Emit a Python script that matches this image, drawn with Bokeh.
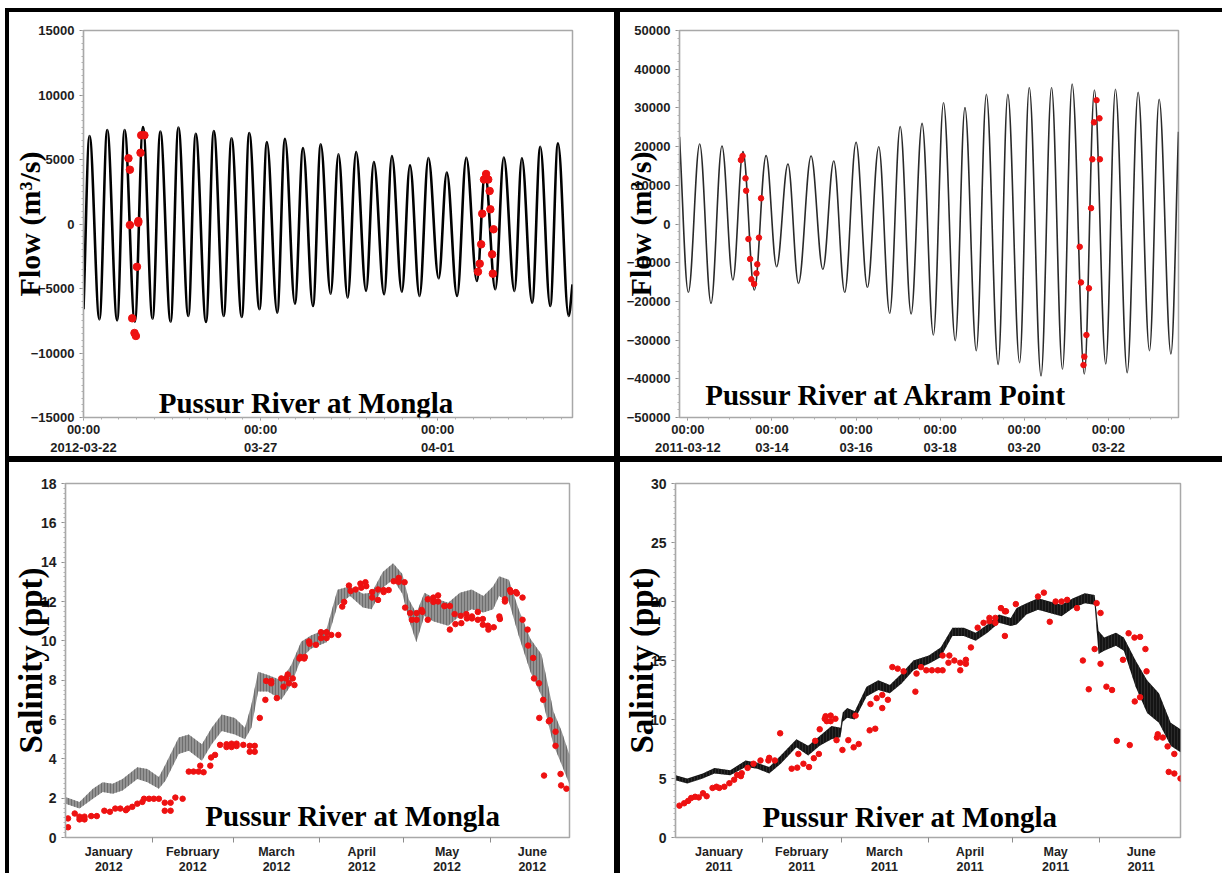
from bokeh.plotting import figure
from bokeh.models import Range1d, FixedTicker, Label, Spacer
from bokeh.layouts import column, row
from bokeh.core.properties import value
from bokeh.embed import file_html
from bokeh.resources import INLINE

# ---------------- Panel 1: Flow, Pussur River at Mongla (days after 2012-03-22 00:00)
mongla_flow_day = [0, 0.17, 0.45, 0.67, 0.95, 1.16, 1.45, 1.68, 1.95, 2.17, 2.46, 2.68, 2.96, 3.17,
                   3.46, 3.68, 3.96, 4.18, 4.47, 4.68, 4.97, 5.18, 5.47, 5.69, 5.97, 6.20, 6.48, 6.70,
                   6.98, 7.20, 7.46, 7.70, 7.98, 8.20, 8.49, 8.71, 8.99, 9.22, 9.49, 9.74, 10.03, 10.26,
                   10.55, 10.81, 11.11, 11.34, 11.63, 11.87, 12.17, 12.38, 12.67, 12.90, 13.18, 13.40,
                   13.70, 13.81]
mongla_flow_val = [-6610, 6820, -7390, 7290, -7470, 7290, -7570, 7520, -7340, 7160, -7570, 7470, -7130, 7000,
                   -7600, 7210, -7130, 6640, -7210, 7050, -6610, 6360, -6870, 6610, -6170, 5890, -6360, 6170,
                   -5400, 5400, -5710, 5580, -5190, 4810, -5450, 5270, -5250, 4550, -5580, 5120, -4210, 3980,
                   -5580, 5140, -4420, 3980, -5060, 5160, -5190, 5100, -6100, 5980, -6360, 6250,
                   -7130, -4680]
mongla_obs_day = [1.27, 1.31, 1.31, 1.375, 1.44, 1.48, 1.51, 1.545, 1.55, 1.61, 1.63, 1.72,
                  11.14, 11.19, 11.23, 11.26, 11.31, 11.37, 11.43, 11.47, 11.49, 11.58, 11.54, 11.56]
mongla_obs_val = [5090, 4210, -80, -7310, -8450, -8680, -3320, 100, 230, 5520, 6880, 6880,
                  -3700, -3075, -1575, 800, 3450, 3875, 3450, 2560, 1140, -410, -2350, -3850]
mongla_flow_ticks = {0: "00:00\n2012-03-22", 5: "00:00\n03-27", 10: "00:00\n04-01"}

# ---------------- Panel 2: Flow, Pussur River at Akram Point (days after 2011-03-12 00:00)
akram_flow_day = [-0.20, 0.01, 0.28, 0.55, 0.81, 1.07, 1.31, 1.58, 1.86, 2.11, 2.38, 2.63, 2.93, 3.21,
                  3.47, 3.73, 4.00, 4.27, 4.54, 4.80, 5.05, 5.31, 5.57, 5.84, 6.08, 6.36, 6.59, 6.86,
                  7.10, 7.38, 7.61, 7.89, 8.12, 8.40, 8.65, 8.91, 9.14, 9.43, 9.67, 9.94, 10.17, 10.45,
                  10.71, 10.98, 11.21, 11.49, 11.67]
akram_flow_val = [22560, -17650, 20670, -20500, 20150, -14470, 18690, -17050, 17660, -11030, 15500, -15330,
                  17570, -11710, 16280, -17650, 21110, -16360, 19980, -23080, 25150, -23260, 26010, -28680,
                  31350, -30150, 30060, -32730, 33500, -36260, 33500, -35830, 35230, -39280, 35230, -37550,
                  36180, -38760, 34630, -36180, 34800, -38420, 34030, -32740, 32220, -33590, 23850]
akram_obs_day = [1.26, 1.30, 1.37, 1.385, 1.44, 1.48, 1.51, 1.575, 1.63, 1.65, 1.69, 1.74,
                 9.32, 9.35, 9.41, 9.43, 9.48, 9.54, 9.59, 9.62, 9.66, 9.72, 9.79, 9.80]
akram_obs_val = [16540, 17570, 11800, 8600, -3880, -9040, -14290, -15500, -12740, -10420, -3530, 6640,
                 -5900, -15100, -36450, -34280, -28680, -16620, 4100, 16720, 26270, 32000, 27300, 16720]
akram_flow_ticks = {0: "00:00\n2011-03-12", 2: "00:00\n03-14", 4: "00:00\n03-16",
                    6: "00:00\n03-18", 8: "00:00\n03-20", 10: "00:00\n03-22"}

# ---------------- Panel 3: Salinity at Mongla 2012 (day of year, 0 = Jan 1)
sal12_band_day = [0, 5, 9.8, 13.3, 16.9, 20.4, 25.7, 29.3, 33.4, 35.8, 40.5, 44.1, 48.8, 52.3, 55.9,
                  60.6, 64.2, 66.5, 68.9, 72.4, 77.2, 80.7, 84.3, 87.8, 93.4, 97.3, 101.8, 106.4, 109.5,
                  113.5, 117.2, 120.5, 122.8, 125.5, 128.4, 131.5, 136.9, 141.1, 145.3, 149.5, 153.0,
                  155.1, 158.6, 162.1, 166.3, 170.3, 174.6, 177.5, 180.3]
sal12_band_hi = [2.06, 1.81, 2.48, 2.81, 2.73, 2.98, 3.57, 3.48, 3.07, 3.73, 5.08, 5.24, 4.74, 5.58, 6.25,
                 6.08, 5.58, 6.75, 8.43, 8.26, 8.0, 8.76, 9.95, 10.27, 10.6, 12.6, 12.78, 12.4, 12.44,
                 13.5, 13.95, 13.4, 12.11, 11.4, 12.44, 12.2, 11.94, 12.44, 12.61, 12.28, 12.78,
                 13.28, 13.1, 11.61, 10.1, 9.3, 6.4, 5.4, 4.2]
sal12_band_lo = [1.72, 1.47, 1.97, 2.31, 2.23, 2.39, 2.98, 2.81, 2.48, 2.90, 4.24, 4.41, 3.90, 4.74, 5.41,
                 5.24, 4.99, 5.58, 7.42, 7.42, 7.0, 7.75, 9.1, 9.6, 9.93, 11.8, 12.28, 11.7, 11.61,
                 12.7, 13.12, 12.4, 11.11, 9.93, 11.27, 11.0, 10.77, 11.27, 11.61, 11.44, 11.61,
                 12.28, 12.0, 10.27, 8.43, 7.2, 4.7, 3.7, 2.7]
sal12_obs_day = [0.9, 0.9, 3.3, 5.0, 5.0, 6.8, 6.8, 9.2, 11.2, 13.9,
                 15.9, 17.8, 19.6, 21.6, 22.2, 23.9, 25.7, 27.5, 28.1, 29.9,
                 31.6, 33.4, 35.5, 37.6, 35.5, 37.6, 39.3, 41.9, 44.1, 45.8,
                 47.6, 48.2, 49.4, 51.8, 52.1, 53.5, 55.3, 57.6, 59.4, 61.2,
                 63.6, 57.6, 59.4, 61.2, 65.9, 67.7, 65.9, 67.7, 69.5, 71.5,
                 71.8, 73.6, 73.6, 75.6, 77.2, 78.9, 78.0, 79.5, 79.9, 81.3,
                 81.9, 83.7, 84.0, 85.4, 85.6, 87.1, 87.3, 89.6, 91.4, 91.4,
                 93.4, 93.4, 95.1, 97.6, 99.0, 99.7, 101.4, 102.0, 103.8, 105.5,
                 105.8, 107.3, 107.6, 109.7, 109.7, 111.8, 111.8, 113.8, 113.8, 115.6,
                 117.4, 119.2, 119.2, 121.3, 121.5, 123.3, 123.9, 125.6, 125.6, 127.4,
                 127.7, 129.6, 129.6, 131.6, 131.6, 133.3, 133.3, 135.5, 135.7, 137.5,
                 137.5, 139.2, 139.5, 141.4, 141.6, 143.4, 143.6, 145.4, 145.4, 147.5,
                 147.5, 149.3, 149.3, 151.1, 151.3, 153.2, 155.2, 155.4, 157.2, 157.2,
                 159.0, 159.3, 161.1, 161.5, 163.5, 163.5, 165.3, 165.5, 167.3, 167.6,
                 169.4, 170.9, 169.5, 172.9, 173.3, 175.3, 175.3, 171.2, 177.1, 177.3,
                 179.2]
sal12_obs_val = [0.97, 0.52, 1.22, 1.06, 0.92, 1.06, 0.92, 1.09, 1.09, 1.36,
                 1.31, 1.47, 1.47, 1.39, 1.47, 1.56, 1.72, 1.81, 1.97, 1.97,
                 1.97, 1.97, 1.77, 1.77, 1.36, 1.36, 2.03, 1.97, 3.35, 3.35,
                 3.35, 3.65, 3.32, 3.65, 4.07, 4.2, 4.71, 4.74, 4.77, 4.77,
                 4.71, 4.6, 4.6, 4.65, 4.66, 4.66, 4.36, 4.36, 6.08, 7.0,
                 7.96, 7.96, 7.84, 7.09, 8.09, 8.09, 7.67, 8.29, 7.84, 8.09,
                 7.75, 9.1, 9.18, 9.1, 9.18, 9.97, 9.85, 9.8, 10.44, 10.14,
                 10.44, 10.14, 10.3, 10.3, 11.74, 11.98, 12.81, 12.53, 12.61, 12.91,
                 12.70, 12.98, 12.78, 12.48, 12.2, 12.61, 12.08, 12.58, 12.48, 12.58,
                 13.03, 13.2, 13.0, 12.98, 11.69, 11.41, 11.07, 11.41, 11.07, 11.57,
                 11.47, 12.11, 11.07, 12.2, 11.98, 12.31, 12.0, 11.77, 11.77, 11.77,
                 10.57, 11.36, 10.85, 11.27, 10.9, 11.36, 11.14, 11.24, 11.14, 11.47,
                 11.07, 11.11, 10.82, 10.77, 10.57, 10.69, 11.24, 11.11, 12.11, 12.0,
                 12.58, 12.48, 12.48, 12.41, 12.2, 11.07, 10.57, 9.76, 9.13, 8.09,
                 7.84, 7.0, 6.08, 5.91, 5.96, 5.38, 4.66, 3.15, 3.23, 2.65,
                 2.48]
month_starts_2012 = [0, 31, 60, 91, 121, 152, 182]
month_names = ["January", "February", "March", "April", "May", "June"]

# ---------------- Panel 4: Salinity at Mongla 2011 (day of year, 0 = Jan 1)
sal11_band_day = [0, 4.2, 9.7, 13.9, 19.5, 25.0, 29.2, 33.4, 37.5, 43.1, 47.3, 51.4, 55.6, 58.8, 59.6,
                  61.2, 63.9, 68.1, 72.3, 76.4, 80.6, 84.8, 90.3, 94.5, 98.7, 102.8, 107.0, 111.2, 115.3,
                  119.5, 121.6, 125.1, 129.2, 133.4, 137.6, 141.7, 145.9, 149.4, 150.8, 152.8, 157.0,
                  159.8, 164.0, 168.1, 172.3, 176.5, 180.0]
sal11_band_hi = [5.28, 5.0, 5.42, 5.89, 5.69, 6.53, 6.33, 5.97, 6.94, 8.33, 7.78, 8.61, 9.44, 9.3, 10.6,
                 10.97, 10.69, 12.78, 13.33, 12.92, 13.89, 15.0, 15.42, 16.11, 17.78, 17.78, 17.36, 18.06,
                 18.89, 18.61, 19.44, 19.86, 20.28, 20.0, 19.72, 20.28, 20.69, 20.56, 17.5, 16.94, 17.36,
                 16.94, 15.0, 13.33, 12.22, 9.72, 9.17]
sal11_band_lo = [4.86, 4.58, 5.0, 5.42, 5.28, 5.97, 5.83, 5.42, 6.25, 7.64, 6.94, 7.78, 8.33, 8.5, 9.8,
                 10.14, 10.0, 11.94, 12.5, 12.22, 13.06, 14.17, 14.72, 15.28, 17.08, 17.08, 16.67, 17.36,
                 18.19, 17.92, 18.06, 18.89, 19.31, 19.03, 18.75, 19.44, 19.86, 19.72, 15.56, 15.83, 16.25,
                 15.83, 12.78, 10.56, 9.72, 7.78, 7.22]
sal11_obs_day = [1.4, 3.1, 4.5, 5.6, 7.0, 8.3, 9.8, 11.1, 13.2, 14.6,
                 15.6, 17.4, 19.2, 20.9, 22.0, 23.3, 23.6, 25.7, 27.8, 30.3,
                 33.1, 33.4, 35.4, 37.3, 41.4, 43.4, 43.8, 45.6, 47.6, 49.3,
                 49.8, 51.1, 51.4, 53.2, 53.5, 53.9, 55.3, 55.3, 57.0, 57.4,
                 59.5, 61.6, 63.5, 64.2, 65.3, 69.2, 71.2, 69.5, 71.7, 73.7,
                 73.7, 75.7, 77.3, 79.2, 81.3, 85.5, 85.9, 87.5, 89.4, 91.4,
                 93.5, 95.2, 95.2, 97.3, 97.6, 99.4, 101.5, 101.5, 103.5, 103.5,
                 105.3, 107.7, 109.8, 111.9, 111.9, 114.0, 114.0, 116.0, 117.4, 117.4,
                 117.8, 121.3, 129.2, 131.3, 133.4, 135.5, 137.6, 139.6, 143.1, 145.2,
                 147.3, 149.4, 150.1, 151.5, 151.5, 153.6, 155.6, 157.3, 159.5, 161.5,
                 161.9, 163.6, 165.6, 163.7, 165.6, 167.5, 167.9, 171.6, 171.9, 173.7,
                 175.8, 175.4, 177.8, 177.8, 180.0]
sal11_obs_val = [2.7, 2.9, 3.1, 3.35, 3.45, 3.4, 3.75, 3.5, 4.2, 4.3,
                 4.2, 4.3, 4.6, 4.9, 5.3, 5.2, 5.45, 5.9, 6.25, 6.53,
                 6.53, 6.75, 6.53, 8.83, 5.83, 5.92, 7.08, 6.25, 5.97, 6.72,
                 8.19, 7.08, 9.17, 10.06, 10.28, 9.86, 10.33, 9.86, 10.06, 8.25,
                 7.42, 8.25, 7.64, 10.33, 7.92, 9.08, 9.22, 11.31, 11.81, 10.97,
                 12.08, 11.67, 14.44, 14.31, 14.08, 12.36, 13.89, 14.44, 14.17, 14.17,
                 14.17, 14.17, 15.42, 14.81, 15.42, 15.0, 14.81, 14.17, 15.06, 14.72,
                 16.11, 17.78, 18.19, 18.61, 18.33, 18.61, 18.19, 19.44, 17.08, 19.17,
                 19.17, 19.78, 20.42, 20.75, 18.28, 20.0, 20.0, 20.14, 19.44, 15.0,
                 12.56, 15.97, 19.86, 19.03, 14.72, 12.78, 12.5, 8.19, 15.06, 17.31,
                 7.83, 16.94, 17.0, 11.53, 11.89, 15.97, 14.08, 8.47, 8.75, 8.47,
                 5.56, 7.72, 5.42, 7.08, 5.0]
month_starts_2011 = [0, 31, 59, 90, 120, 151, 181]

RED = "#ee1111"
SERIF = "Liberation Serif"
SANS = "Liberation Sans"


def base_fig(w, h, xr, yr, mb, border):
    p = figure(width=w, height=h, x_range=Range1d(*xr), y_range=Range1d(*yr),
               output_backend="svg", toolbar_location=None,
               min_border_left=mb[0], min_border_right=mb[1],
               min_border_top=mb[2], min_border_bottom=mb[3])
    p.grid.visible = False
    p.outline_line_color = "#a8a8a8"
    p.outline_line_width = 1.5
    p.background_fill_color = "white"
    p.border_fill_color = "white"
    p.styles = {"border-style": "solid", "border-color": "black",
                "border-width": border, "box-sizing": "content-box"}
    for ax in (p.xaxis[0], p.yaxis[0]):
        ax.axis_line_color = "#a8a8a8"
        ax.axis_line_width = 1.2
        ax.major_tick_line_color = "#8c8c8c"
        ax.minor_tick_line_color = "#b0b0b0"
        ax.major_tick_in = 0
        ax.minor_tick_in = 0
        ax.major_tick_out = 4
        ax.minor_tick_out = 2
        ax.major_label_text_font = SANS
        ax.major_label_text_font_style = "bold"
        ax.major_label_text_font_size = "13px"
        ax.major_label_text_color = "#1e1e1e"
        ax.axis_label_text_font = SERIF
        ax.axis_label_text_font_style = "bold"
        ax.axis_label_text_color = "black"
    return p


def tidal_curve(p, days, vals, **kw):
    # each half tide cycle drawn as a smooth S-curve between consecutive read extremes
    k = 0.36
    n = len(days) - 1
    x0, x1 = days[:-1], days[1:]
    y0, y1 = vals[:-1], vals[1:]
    cx0 = [a + k * (b - a) for a, b in zip(x0, x1)]
    cx1 = [b - k * (b - a) for a, b in zip(x0, x1)]
    cy0 = list(y0)
    cy1 = list(y1)
    # first and last points are window edges, not extremes: leave them sloped
    cy0[0] = y0[0] + k * (y1[0] - y0[0])
    cy1[n - 1] = y1[n - 1] - k * (y1[n - 1] - y0[n - 1])
    p.bezier(x0=x0, y0=y0, x1=x1, y1=y1, cx0=cx0, cy0=cy0, cx1=cx1, cy1=cy1, **kw)


def title(p, x, y, text):
    p.add_layout(Label(x=x, y=y, text=text, text_font=SERIF, text_font_size="29px",
                       text_font_style="bold", text_align="center", text_baseline="alphabetic",
                       text_color="black"))


def flow_xaxis(p, ticks, nminor):
    p.xaxis.ticker = FixedTicker(ticks=list(ticks), minor_ticks=[i * 0.5 for i in range(nminor)])
    p.xaxis.major_label_overrides = ticks
    p.xaxis.major_label_text_line_height = 1.25
    p.xaxis.major_label_standoff = 1
    p.xaxis.major_tick_out = 3


def month_axis(p, starts, year):
    mids = [(starts[i] + starts[i + 1]) / 2 for i in range(6)]
    p.xaxis.ticker = FixedTicker(ticks=mids, minor_ticks=starts[1:6])
    p.xaxis.major_label_overrides = {m: f"{n}\n{year}" for m, n in zip(mids, month_names)}
    p.xaxis.major_tick_out = 0
    p.xaxis.minor_tick_out = 5
    p.xaxis.minor_tick_line_color = "#8c8c8c"
    p.xaxis.major_label_standoff = 2
    p.xaxis.major_label_text_line_height = 1.1
    p.xaxis.major_label_text_font_size = "12.5px"


def salinity_ylabel(p, standoff):
    p.yaxis.axis_label = "Salinity (ppt)"
    p.yaxis.axis_label_text_font_size = "33px"
    p.yaxis.axis_label_text_line_height = 0.8
    p.yaxis.axis_label_standoff = standoff


# Note: the canvas is sized to the border box but starts inside the CSS border,
# so the right/bottom min borders include the border widths.

# ---- Panel 1 (top left)
p1 = base_fig(605, 444, (0, 13.81), (-15000, 15000), (74, 49, 16, 46), "4px 3px 3px 4px")
tidal_curve(p1, mongla_flow_day, mongla_flow_val, line_color="black", line_width=2.6)
p1.scatter(mongla_obs_day, mongla_obs_val, size=7.5, fill_color=RED, line_color=RED)
flow_xaxis(p1, mongla_flow_ticks, 28)
p1.yaxis.ticker = FixedTicker(ticks=list(range(-15000, 15001, 5000)),
                              minor_ticks=list(range(-15000, 15001, 500)))
p1.yaxis.axis_label = "Flow (m³/s)"
p1.yaxis.axis_label_text_font_size = "30px"
p1.yaxis.axis_label_standoff = -18
title(p1, 6.3, -13850, "Pussur River at Mongla")

# ---- Panel 2 (top right)
p2 = base_fig(602, 444, (-0.2, 11.67), (-50000, 50000), (59, 47, 18, 46), "4px 0px 3px 3px")
tidal_curve(p2, akram_flow_day, akram_flow_val, line_color="#2a2a2a", line_width=1.6)
p2.scatter(akram_obs_day, akram_obs_val, size=5.5, fill_color=RED, line_color=RED)
flow_xaxis(p2, akram_flow_ticks, 24)
p2.yaxis.ticker = FixedTicker(ticks=list(range(-50000, 50001, 10000)),
                              minor_ticks=list(range(-50000, 50001, 2000)))
p2.yaxis.axis_label = "Flow (m³/s)"
p2.yaxis.axis_label_text_font_size = "30px"
p2.yaxis.axis_label_standoff = -33
title(p2, 4.81, -44190, "Pussur River at Akram  Point")

# ---- Panel 3 (bottom left)
p3 = base_fig(605, 411, (0, 180.3), (0, 18), (52, 52, 21, 35), "3px 3px 0px 4px")
p3.varea(x=sal12_band_day, y1=sal12_band_lo, y2=sal12_band_hi, fill_color="#939393",
         hatch_pattern=value("vertical_line"), hatch_color="#5e5e5e", hatch_scale=3, hatch_weight=0.7)
p3.scatter(sal12_obs_day, sal12_obs_val, size=5.5, fill_color=RED, line_color=RED)
month_axis(p3, month_starts_2012, 2012)
p3.yaxis.ticker = FixedTicker(ticks=list(range(0, 19, 2)), minor_ticks=[i * 0.25 for i in range(73)])
p3.yaxis.major_label_text_font_size = "14px"
salinity_ylabel(p3, -11)
title(p3, 102.9, 1.1, "Pussur River at Mongla")

# ---- Panel 4 (bottom right)
p4 = base_fig(602, 411, (0, 180), (0, 30), (52, 45, 18, 35), "3px 0px 0px 3px")
p4.varea(x=sal11_band_day, y1=sal11_band_lo, y2=sal11_band_hi, fill_color="#141414",
         hatch_pattern=value("vertical_line"), hatch_color="#3a3a3a", hatch_scale=3, hatch_weight=0.6)
p4.scatter(sal11_obs_day, sal11_obs_val, size=5.5, fill_color=RED, line_color=RED)
month_axis(p4, month_starts_2011, 2011)
p4.yaxis.ticker = FixedTicker(ticks=list(range(0, 31, 5)), minor_ticks=[i * 0.5 for i in range(61)])
p4.yaxis.major_label_text_font_size = "14px"
salinity_ylabel(p4, -12)
title(p4, 83.7, 1.72, "Pussur River at Mongla")

layout = column(Spacer(width=10, height=8),
                row(Spacer(width=5, height=10), p1, p2),
                row(Spacer(width=5, height=10), p3, p4))
open("out.html", "w").write(file_html(layout, INLINE))
